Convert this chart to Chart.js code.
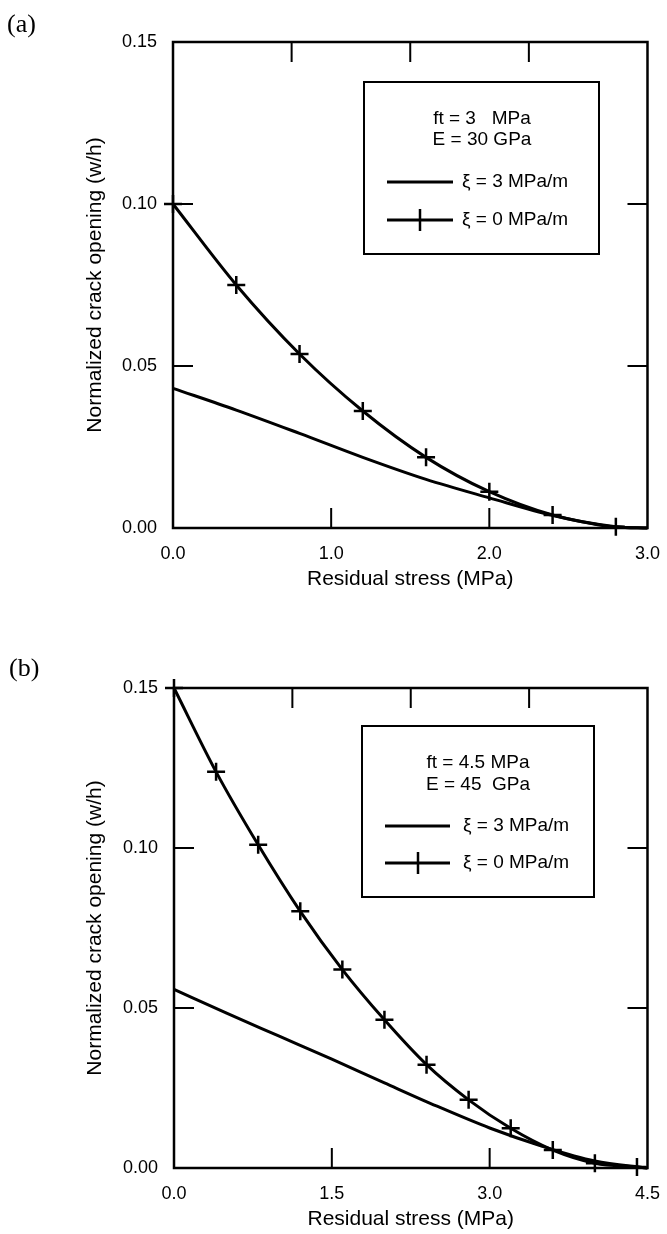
<!DOCTYPE html>
<html>
<head>
<meta charset="utf-8">
<script src="https://cdn.jsdelivr.net/npm/chart.js@4.4.1/dist/chart.umd.min.js"></script>
<style>
  html, body { margin: 0; padding: 0; background: #fff; }
  body { width: 667px; height: 1234px; position: relative; overflow: hidden; }
  .panel { position: absolute; left: 0; width: 667px; height: 617px; }
  .tag { position: absolute; font-family: 'Liberation Serif', 'DejaVu Serif', serif; font-size: 26px; line-height: 26px; color: #000; }
</style>
</head>
<body>
<div class="panel" style="top:0"><canvas id="chartA"></canvas></div>
<div class="panel" style="top:617px"><canvas id="chartB"></canvas></div>
<div class="tag" style="left:7px;top:11px">(a)</div>
<div class="tag" style="left:9px;top:655px">(b)</div>
<script>
// (a) ft = 3 MPa, E = 30 GPa
const stressA0 = [0, 0.4, 0.8, 1.2, 1.6, 2.0, 2.4, 2.8, 3.0];
const openingA0 = [0.100, 0.075, 0.0537, 0.0361, 0.0218, 0.0112, 0.0040, 0.0004, 0];
const stressA3 = [0, 0.4, 0.8, 1.2, 1.6, 2.0, 2.4, 2.8, 3.0];
const openingA3 = [0.0431, 0.0364, 0.0292, 0.0218, 0.0150, 0.0093, 0.0039, 0.0003, 0];

// (b) ft = 4.5 MPa, E = 45 GPa
const stressB0 = [0, 0.4, 0.8, 1.2, 1.6, 2.0, 2.4, 2.8, 3.2, 3.6, 4.0, 4.4, 4.5];
const openingB0 = [0.150, 0.1238, 0.1010, 0.0802, 0.0620, 0.0463, 0.0323, 0.0213, 0.0124, 0.0056, 0.0015, 0.0003, 0];
const stressB3 = [0, 0.5, 1.0, 1.5, 2.0, 2.5, 3.0, 3.5, 4.0, 4.5];
const openingB3 = [0.0558, 0.0484, 0.0412, 0.0340, 0.0266, 0.0193, 0.0125, 0.0068, 0.0022, 0];

// axis ticks
const yTicks = [0, 0.05, 0.10, 0.15];
const yInner = [0.05, 0.10];
const xTicksA = [0, 1.0, 2.0, 3.0];
const xInnerA = [1.0, 2.0];
const xTopA = [0.75, 1.5, 2.25];
const xTicksB = [0, 1.5, 3.0, 4.5];
const xInnerB = [1.5, 3.0];
const xTopB = [1.125, 2.25, 3.375];

const headerA = ['ft = 3   MPa', 'E = 30 GPa'];
const headerB = ['ft = 4.5 MPa', 'E = 45  GPa'];
const seriesLabels = ['\u03BE = 3 MPa/m', '\u03BE = 0 MPa/m'];

const ink = '#000';
const fontFamily = "'Liberation Sans', Arial, Helvetica, sans-serif";
Chart.defaults.font.family = fontFamily;
Chart.defaults.color = ink;

const pts = (xs, ys) => xs.map((x, i) => ({ x: x, y: ys[i] }));

// frame + inward ticks on all four sides
const frameTicks = {
  id: 'frameTicks',
  afterDatasetsDraw(chart, args, o) {
    const { ctx, chartArea: a, scales: { x, y } } = chart;
    const L = 20;
    ctx.save();
    ctx.strokeStyle = ink;
    ctx.lineWidth = 2;
    ctx.beginPath();
    o.yInner.forEach(v => {
      const py = y.getPixelForValue(v);
      ctx.moveTo(a.left, py); ctx.lineTo(a.left + L, py);
      ctx.moveTo(a.right, py); ctx.lineTo(a.right - L, py);
    });
    o.xInner.forEach(v => {
      const px = x.getPixelForValue(v);
      ctx.moveTo(px, a.bottom); ctx.lineTo(px, a.bottom - L);
    });
    o.xTop.forEach(v => {
      const px = x.getPixelForValue(v);
      ctx.moveTo(px, a.top); ctx.lineTo(px, a.top + L);
    });
    ctx.stroke();
    ctx.lineWidth = 2.5;
    ctx.strokeRect(a.left, a.top, a.right - a.left, a.bottom - a.top);
    ctx.restore();
  }
};

// boxed legend with header lines
const boxLegend = {
  id: 'boxLegend',
  afterDraw(chart, args, o) {
    const ctx = chart.ctx;
    const b = o.box;
    ctx.save();
    ctx.strokeStyle = ink;
    ctx.fillStyle = ink;
    ctx.lineWidth = 2;
    ctx.strokeRect(b[0], b[1], b[2] - b[0], b[3] - b[1]);
    ctx.font = '19px ' + fontFamily;
    ctx.textBaseline = 'middle';
    ctx.textAlign = 'center';
    o.header.forEach((t, i) => ctx.fillText(t, o.headerX, o.headerY[i]));
    ctx.textAlign = 'left';
    chart.data.datasets.forEach((ds, i) => {
      const ey = o.entryY[i];
      ctx.lineWidth = 3;
      ctx.beginPath();
      ctx.moveTo(o.lineX[0], ey); ctx.lineTo(o.lineX[1], ey);
      ctx.stroke();
      if (ds.marked) {
        ctx.lineWidth = 2.5;
        ctx.beginPath();
        ctx.moveTo(o.markX, ey - 11); ctx.lineTo(o.markX, ey + 11);
        ctx.stroke();
      }
      ctx.fillText(ds.label, o.textX, ey);
    });
    ctx.restore();
  }
};

function makeChart(id, cfg) {
  const last = cfg.x0.length - 1;
  return new Chart(document.getElementById(id), {
    type: 'line',
    data: {
      datasets: [
        {
          label: seriesLabels[0],
          data: pts(cfg.x3, cfg.y3),
          borderColor: ink,
          borderWidth: 3,
          pointRadius: 0,
          cubicInterpolationMode: 'monotone',
          clip: false,
          marked: false
        },
        {
          label: seriesLabels[1],
          data: pts(cfg.x0, cfg.y0),
          borderColor: ink,
          borderWidth: 3,
          pointStyle: 'cross',
          pointRadius: c => (c.dataIndex < last ? 9 : 0),
          pointBorderWidth: 2.5,
          pointBorderColor: ink,
          pointBackgroundColor: ink,
          cubicInterpolationMode: 'monotone',
          clip: false,
          marked: true
        }
      ]
    },
    options: {
      responsive: true,
      maintainAspectRatio: false,
      animation: false,
      events: [],
      layout: { padding: cfg.padding },
      scales: {
        x: {
          type: 'linear',
          min: 0,
          max: cfg.xMax,
          afterBuildTicks: s => { s.ticks = cfg.xTicks.map(v => ({ value: v })); },
          afterFit: s => { s.height = 66; },
          grid: { display: false },
          border: { display: false },
          ticks: { font: { size: 18 }, padding: 7, maxRotation: 0, callback: v => v.toFixed(1) },
          title: { display: true, text: 'Residual stress (MPa)', font: { size: 21 }, padding: { top: 0, bottom: 2 } }
        },
        y: {
          type: 'linear',
          min: 0,
          max: 0.15,
          afterBuildTicks: s => { s.ticks = yTicks.map(v => ({ value: v })); },
          afterFit: s => { s.width = cfg.yWidth; },
          grid: { display: false },
          border: { display: false },
          ticks: { font: { size: 18 }, padding: 8, callback: v => v.toFixed(2) },
          title: { display: true, text: 'Normalized crack opening (w/h)', font: { size: 21 }, padding: { top: 83, bottom: 0 } }
        }
      },
      plugins: {
        legend: { display: false },
        tooltip: { enabled: false },
        frameTicks: { yInner: yInner, xInner: cfg.xInner, xTop: cfg.xTop },
        boxLegend: cfg.legend
      }
    },
    plugins: [frameTicks, boxLegend]
  });
}

makeChart('chartA', {
  x0: stressA0, y0: openingA0, x3: stressA3, y3: openingA3,
  xMax: 3, xTicks: xTicksA, xInner: xInnerA, xTop: xTopA,
  yWidth: 173,
  padding: { top: 42, right: 14, bottom: 23, left: 0 },
  legend: {
    box: [364, 82, 599, 254], header: headerA, headerX: 482, headerY: [119, 140],
    lineX: [387, 453], markX: 420, textX: 462, entryY: [182, 220]
  }
});

makeChart('chartB', {
  x0: stressB0, y0: openingB0, x3: stressB3, y3: openingB3,
  xMax: 4.5, xTicks: xTicksB, xInner: xInnerB, xTop: xTopB,
  yWidth: 174,
  padding: { top: 71, right: 17, bottom: 0, left: 0 },
  legend: {
    box: [362, 109, 594, 280], header: headerB, headerX: 478, headerY: [146, 168],
    lineX: [385, 450], markX: 418, textX: 463, entryY: [209, 246]
  }
});
</script>
</body>
</html>
